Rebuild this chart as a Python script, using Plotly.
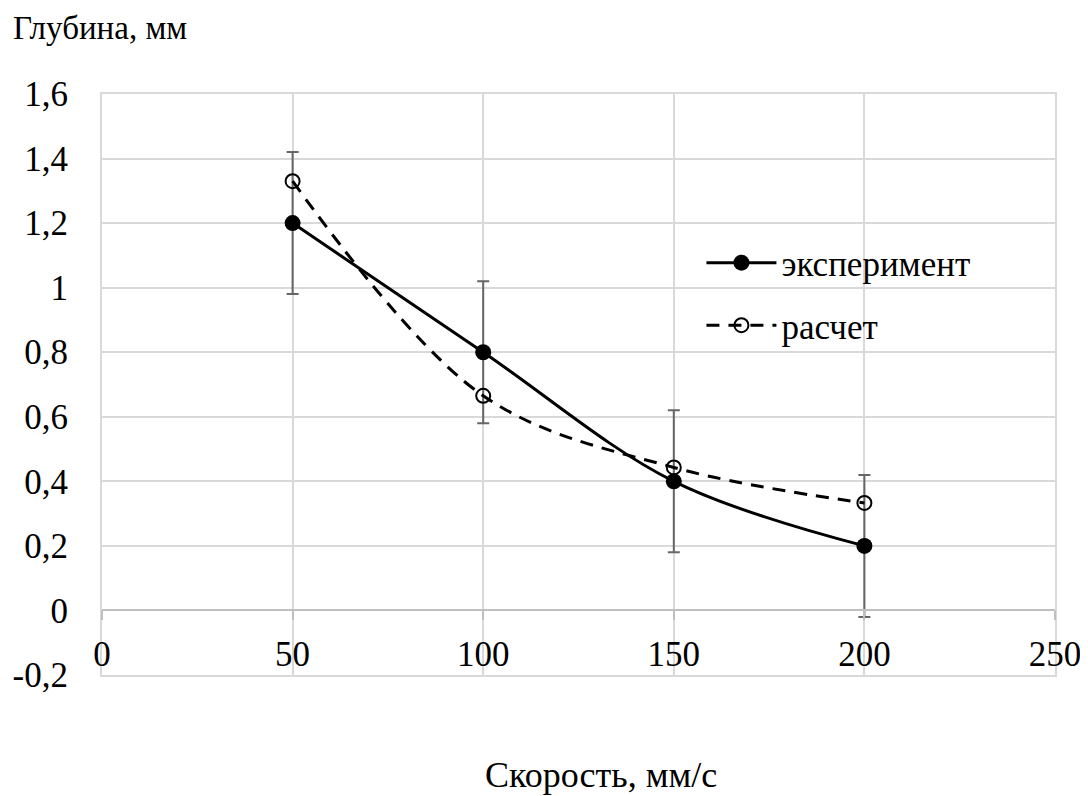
import plotly.graph_objects as go

# Data
speed = [50, 100, 150, 200]
depth_exp = [1.2, 0.8, 0.4, 0.2]
depth_err = [0.22, 0.22, 0.22, 0.22]
depth_calc = [1.33, 0.665, 0.443, 0.333]

series_names = ["эксперимент", "расчет"]
y_title = "Глубина, мм"
x_title = "Скорость, мм/с"

y_tickvals = [-0.2, 0, 0.2, 0.4, 0.6, 0.8, 1.0, 1.2, 1.4, 1.6]
y_ticktext = ["-0,2", "0", "0,2", "0,4", "0,6", "0,8", "1", "1,2", "1,4", "1,6"]
x_tickvals = [0, 50, 100, 150, 200, 250]
x_ticktext = ["0", "50", "100", "150", "200", "250"]

FONT = "'Times New Roman', 'Liberation Serif', Tinos, 'DejaVu Serif', serif"
GRID = "#d9d9d9"

fig = go.Figure()

fig.add_trace(go.Scatter(
    x=speed, y=depth_exp, name=series_names[0], legendgroup="a",
    mode="lines+markers", line=dict(color="black", width=3, shape="spline", smoothing=1.0),
    marker=dict(symbol="circle", size=16, color="black"),
    error_y=dict(type="data", array=depth_err, visible=True, color="#666666", thickness=2, width=6),
))
fig.add_trace(go.Scatter(
    x=speed, y=depth_calc, name=series_names[1], legendgroup="b",
    mode="lines+markers", line=dict(color="black", width=3, dash="13px,9px", shape="spline", smoothing=1.0),
    marker=dict(symbol="circle-open", size=14, color="black", line=dict(width=2, color="black")),
))

fig.update_layout(
    width=1080, height=788,
    margin=dict(l=94, r=33, t=86, b=121),
    paper_bgcolor="white", plot_bgcolor="white",
    font=dict(family=FONT, size=34, color="black"),
    title=dict(text=y_title, x=5 / 1080, xref="container", xanchor="left",
               y=1 - 19 / 788, yref="container", yanchor="middle",
               font=dict(family=FONT, size=33, color="black")),
    xaxis=dict(range=[0, 250], tickvals=x_tickvals, showticklabels=False, ticks="",
               showgrid=True, gridcolor=GRID, gridwidth=2, zeroline=False, automargin=False,
               showline=True, mirror=True, linecolor=GRID, linewidth=2),
    xaxis2=dict(range=[0, 250], overlaying="x", anchor="free", position=0.2 / 1.8,
                side="bottom", tickvals=x_tickvals, ticktext=x_ticktext, automargin=False,
                showgrid=False, zeroline=False, showline=True, linecolor="#bfbfbf", linewidth=2,
                ticks="outside", ticklen=9, tickwidth=2, tickcolor="#bfbfbf", ticklabelstandoff=4,
                tickfont=dict(family=FONT, size=35, color="black")),
    yaxis=dict(range=[-0.2, 1.6], tickvals=y_tickvals, ticktext=y_ticktext,
               showgrid=True, gridcolor=GRID, gridwidth=2, zeroline=False, automargin=False,
               showline=True, mirror=True, linecolor=GRID, linewidth=2,
               ticks="", ticklabelstandoff=25,
               tickfont=dict(family=FONT, size=35, color="black")),
    showlegend=True,
    legend=dict(x=0.629, y=0.76, xanchor="left", yanchor="top", bgcolor="rgba(0,0,0,0)",
                font=dict(family=FONT, size=35, color="black"),
                traceorder="grouped", tracegroupgap=14, itemwidth=70),
    annotations=[dict(text=x_title, xref="paper", yref="paper", x=(601 - 102) / 953, y=-(775 - 675) / 581,
                      xanchor="center", yanchor="middle", showarrow=False,
                      font=dict(family=FONT, size=36, color="black"))],
)

# dummy invisible trace to activate xaxis2
fig.add_trace(go.Scatter(x=[0], y=[None], xaxis="x2", showlegend=False, hoverinfo="skip"))

fig.write_html("out.html")
